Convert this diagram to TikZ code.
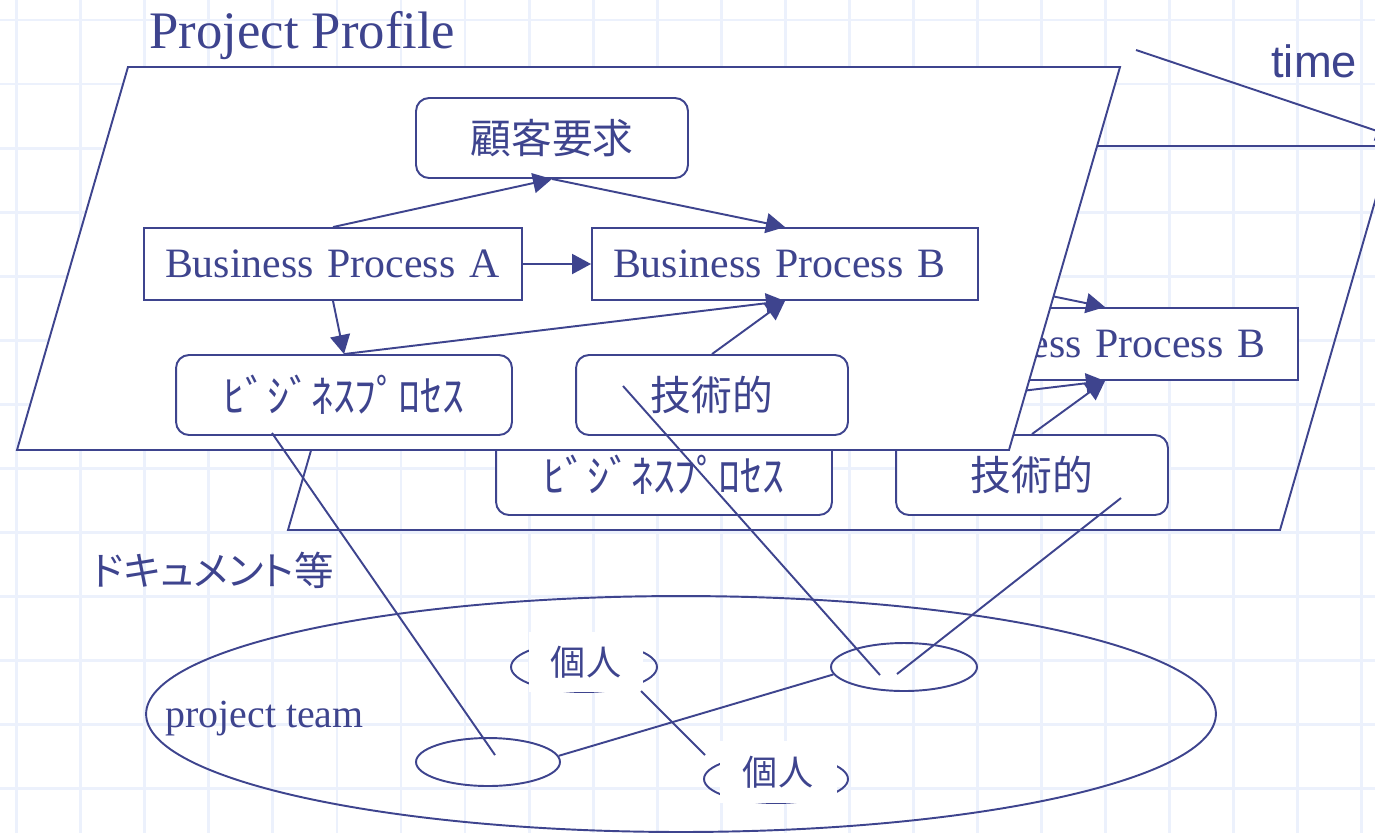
\documentclass[tikz,border=0pt]{standalone}
\usepackage{fontspec}
\setmainfont{Liberation Serif}
\newfontfamily\sansf{Liberation Sans}
\newfontfamily\jpf{Noto Sans CJK JP}
\newfontfamily\jppf[RawFeature=+palt]{Noto Sans CJK JP}
\usetikzlibrary{shapes.geometric,arrows.meta,calc}
\definecolor{ink}{RGB}{62,68,142}
\definecolor{gridc}{RGB}{236,241,252}
\begin{document}
\begin{tikzpicture}[x=0.02cm,y=-0.02cm,
  every node/.style={text=ink},
  ln/.style={draw=ink,line width=1.1pt},
  arr/.style={ln,-{Triangle[length=0.38cm,width=0.4cm]}},
  rbox/.style={draw=ink,line width=1.1pt,fill=white,rounded corners=0.26cm,minimum width=5.44cm,minimum height=1.6cm,inner sep=0pt},
  sbox/.style={draw=ink,line width=1.1pt,fill=white,minimum height=1.44cm,inner xsep=0.42cm,inner ysep=0pt,align=left},
  jptext/.style={font=\jpf\fontsize{23.2pt}{26pt}\selectfont},
  kanatext/.style={font=\jpf\fontsize{25pt}{28pt}\selectfont},
  bptext/.style={font=\fontsize{23.8pt}{28pt}\selectfont},
  oval/.style={ellipse,draw=ink,line width=1.1pt,inner sep=0pt},
  lab/.style={fill=white,inner sep=0pt,font=\jpf\fontsize{20pt}{24pt}\selectfont}
]
\useasboundingbox (0,0) rectangle (1375,833);
\clip (0,0) rectangle (1375,833);
% grid
\foreach \k in {0,...,21}{\draw[gridc,line width=1.6pt] ({16.7+64.05*\k},0) -- ({16.7+64.05*\k},833);}
\foreach \k in {0,...,12}{\draw[gridc,line width=1.6pt] (0,{20+64.05*\k}) -- (1375,{20+64.05*\k});}

% back layer
\draw[ln] (399,146) -- (1391,146) -- (1280,530) -- (288,530) -- cycle;
\node[rbox,jptext] (gkb) at (872,218) {顧客要求};
\node[sbox,bptext,text width=6.72cm] (bpab) at (653,344) {Business Process A};
\node[sbox,bptext,text width=6.88cm] (bpbb) at (1105,344) {Business Process B};
\node[rbox,kanatext,minimum width=6.72cm] (bzb) at (664,475) {ﾋﾞｼﾞﾈｽﾌﾟﾛｾｽ};
\node[rbox,jptext] (tgb) at (1032,475) {技術的};
\draw[arr] (bpab.north) -- (gkb.south);
\draw[arr] (gkb.south) -- (bpbb.north);
\draw[arr] (bpab.east) -- (bpbb.west);
\draw[arr] (bpab.south) -- (bzb.north);
\draw[arr] (bzb.north) -- (bpbb.south);
\draw[arr] (tgb.north) -- (bpbb.south);

% front layer
\draw[ln,fill=white] (128,67) -- (1120,67) -- (1009,450) -- (17,450) -- cycle;
\node[rbox,jptext] (gk) at (552,138) {顧客要求};
\node[sbox,bptext,text width=6.72cm] (bpa) at (333,264) {Business Process A};
\node[sbox,bptext,text width=6.88cm] (bpb) at (785,264) {Business Process B};
\node[rbox,kanatext,minimum width=6.72cm] (bz) at (344,395) {ﾋﾞｼﾞﾈｽﾌﾟﾛｾｽ};
\node[rbox,jptext] (tg) at (712,395) {技術的};
\draw[arr] (bpa.north) -- (gk.south);
\draw[arr] (gk.south) -- (bpb.north);
\draw[arr] (bpa.east) -- (bpb.west);
\draw[arr] (bpa.south) -- (bz.north);
\draw[arr] (bz.north) -- (bpb.south);
\draw[arr] (tg.north) -- (bpb.south);

% labels
\node[anchor=base west,inner sep=0pt,font=\fontsize{30pt}{34pt}\selectfont] (title) at (149,48) {Project Profile};
\node[anchor=base west,inner sep=0pt,font=\sansf\fontsize{25.8pt}{30pt}\selectfont] (time) at (1271,77) {time};
\coordinate (t0) at (1136,50);
\coordinate (t1) at (1395,137);
\draw[arr] (t0) -- (t1);
\node[anchor=base west,inner sep=0pt,font=\jppf\fontsize{22.5pt}{26pt}\selectfont] (doc) at (92,585) {ドキュメント等};

% team
\node[oval,minimum width=21.4cm,minimum height=4.72cm] (team) at (681,714) {};
\node[anchor=base west,inner sep=0pt,font=\fontsize{22.7pt}{26pt}\selectfont] (teamlbl) at (165,727) {project team};
\node[oval,minimum width=2.88cm,minimum height=0.96cm] (e1) at (488,762) {};
\node[oval,minimum width=2.92cm,minimum height=0.96cm] (e2) at (904,667) {};
\node[oval,minimum width=2.92cm,minimum height=1cm] (e3) at (584,667) {};
\node[oval,minimum width=2.88cm,minimum height=0.96cm] (e4) at (776,779) {};
\node[lab,minimum width=2.28cm,minimum height=1.2cm] (l1) at (586,662) {個人};
\node[lab,minimum width=2.34cm,minimum height=1.24cm] (l2) at (778,772) {個人};

% connectors
\coordinate (p1) at (272,433);
\coordinate (q1) at (495,755);
\coordinate (p2) at (623,386);
\coordinate (q2) at (880,675);
\coordinate (p3) at (1121,498);
\coordinate (q3) at (897,674);
\coordinate (p5) at (641,691);
\coordinate (q5) at (705,755);
\draw[ln] (p1) -- (q1);
\draw[ln] (p2) -- (q2);
\draw[ln] (p3) -- (q3);
\draw[ln] (e1.5) -- (e2.186);
\draw[ln] (p5) -- (q5);
\end{tikzpicture}
\end{document}
